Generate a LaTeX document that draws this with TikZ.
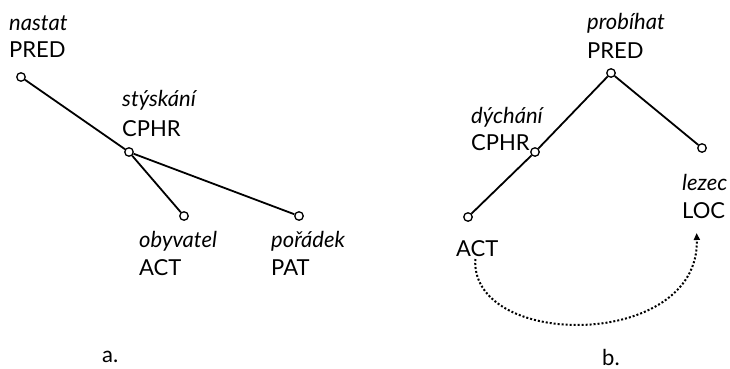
\documentclass[tikz,border=0pt]{standalone}
\usepackage{fontspec}
\setmainfont{Lato}
\usetikzlibrary{calc,arrows.meta}
\begin{document}
\begin{tikzpicture}[x=1pt,y=-1pt,
  dot/.style={circle,draw,line width=1.3pt,minimum size=8.5pt,inner sep=0pt,fill=white},
  word/.style={anchor=base west,inner sep=0pt,font=\fontsize{22}{27}\selectfont\itshape},
  role/.style={anchor=base west,inner sep=0pt,font=\fontsize{22}{27}\selectfont},
  edge/.style={line width=1.8pt},
  coref/.style={line width=2pt,dotted,-{Triangle[length=7pt,width=6pt]}}]
\useasboundingbox (0,0) rectangle (730,369);
% tree a
\node[dot] (nastat) at (21,77) {};
\node[dot] (stys) at (129,152) {};
\node[dot] (obyv) at (184,216) {};
\node[dot] (pora) at (299,216) {};
\node[word] (nastatW) at (9,31) {nastat};
\node[role] (nastatR) at (9,58) {PRED};
\node[word] (stysW) at (122,106) {stýskání};
\node[role] (stysR) at (122,136) {CPHR};
\node[word] (obyvW) at (139,247) {obyvatel};
\node[role] (obyvR) at (139,275) {ACT};
\node[word] (poraW) at (271,247) {pořádek};
\node[role] (poraR) at (271,275) {PAT};
\draw[edge] (nastat) -- (stys);
\draw[edge] (stys) -- (obyv);
\draw[edge] (stys) -- (pora);
\node[role] (capA) at (102,362) {a.};
% tree b
\node[dot] (prob) at (611,73) {};
\node[dot] (dych) at (535,152) {};
\node[dot] (lez) at (702,148) {};
\node[dot] (act) at (468,217) {};
\node[word] (probW) at (587,30) {probíhat};
\node[role] (probR) at (587,59) {PRED};
\node[word] (dychW) at (471,123) {dýchání};
\node[role] (dychR) at (471,150) {CPHR};
\node[word] (lezW) at (682,190) {lezec};
\node[role] (lezR) at (682,218) {LOC};
\node[role] (actR) at (456,256) {ACT};
\draw[edge] (prob) -- (dych);
\draw[edge] (dych) -- (act);
\draw[edge] (prob) -- (lez);
\draw[coref] ($(actR.base)+(-2,3)$) .. controls (470,350) and (700,350) .. ($(lezR.base)+(-7,15)$);
\node[role] (capB) at (602,365) {b.};
\end{tikzpicture}
\end{document}
